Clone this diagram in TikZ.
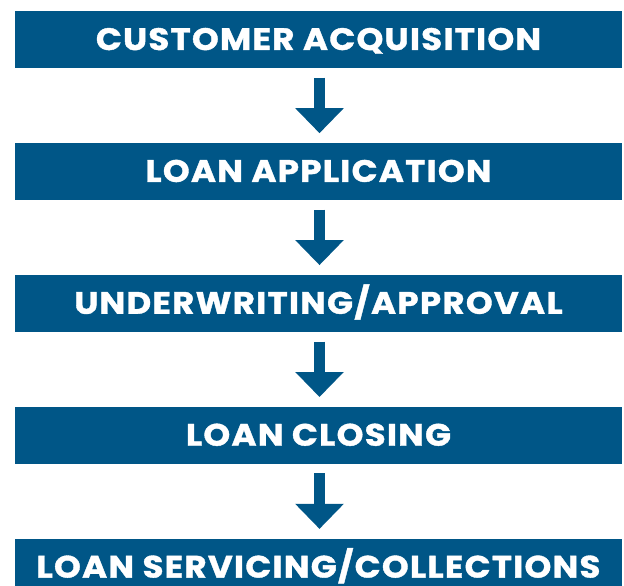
\documentclass[tikz,border=0pt]{standalone}
\usepackage{fontspec}
\setmainfont{Poppins}[BoldFeatures={LetterSpace=4,FakeStretch=1.1,FakeBold=1.2}]
\usepackage{xcolor}
\usepackage{tikz}
\usetikzlibrary{arrows.meta}
\usetikzlibrary{calc,positioning}
\definecolor{loanblue}{RGB}{0,86,135}
\tikzset{
  stage/.style={rectangle, fill=loanblue, text=white, minimum width=607pt, minimum height=57pt, inner sep=0pt, text height=22pt, text depth=2pt, font=\fontsize{31}{31}\selectfont\bfseries},
  flow/.style={loanblue, line width=11.5pt, -{Triangle[width=47pt,length=25pt]}}
}

\begin{document}
\begin{tikzpicture}[x=1pt,y=1pt]
  \useasboundingbox (0,0) rectangle (624,-586);
  \node[stage] (acq) at (318.5,-40) {CUSTOMER ACQUISITION};
  \node[stage, below=74.5pt of acq] (app) {LOAN APPLICATION};
  \node[stage, below=74.5pt of app] (und) {UNDERWRITING/APPROVAL};
  \node[stage, below=74.5pt of und] (clo) {LOAN CLOSING};
  \node[stage, below=74.5pt of clo] (ser) {LOAN SERVICING/COLLECTIONS};
  % arrows between the stages
  \foreach \a/\b in {acq/app,app/und,und/clo,clo/ser}
    \draw[flow] ($(\a.south)+(1,-9)$) -- ($(\b.north)+(1,10)$);
\end{tikzpicture}
\end{document}
